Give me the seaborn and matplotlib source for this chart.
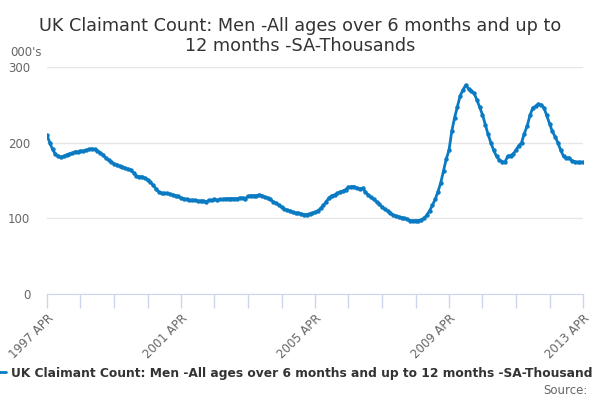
import pandas as pd
import matplotlib
matplotlib.use('Agg')
import matplotlib.pyplot as plt
import seaborn as sns

# monthly values, thousands, Apr 1997 .. Apr 2013
claimants = [
    210, 200, 191, 185, 182, 181, 182, 184, 185, 186, 188, 188,   # 1997/98
    189, 189, 190, 191, 192, 191, 189, 187, 184, 180, 177, 175,   # 1998/99
    172, 171, 169, 168, 166, 165, 164, 160, 156, 155, 155, 153,   # 1999/00
    151, 148, 144, 139, 135, 133, 133, 133, 132, 131, 130, 129,   # 2000/01
    127, 126, 125, 124, 124, 124, 123, 123, 123, 122, 124, 124,   # 2001/02
    125, 124, 125, 125, 126, 126, 126, 126, 126, 127, 127, 126,   # 2002/03
    129, 130, 130, 130, 131, 130, 128, 127, 125, 122, 120, 118,   # 2003/04
    115, 112, 111, 110, 108, 107, 107, 106, 105, 105, 106, 107,   # 2004/05
    108, 110, 113, 117, 122, 127, 130, 131, 133, 135, 136, 138,   # 2005/06
    141, 142, 142, 140, 139, 140, 135, 131, 128, 125, 122, 119,   # 2006/07
    115, 112, 110, 107, 104, 103, 102, 101, 100, 99, 97, 97,      # 2007/08
    97, 97, 98, 100, 104, 110, 117, 125, 135, 147, 163, 178,      # 2008/09
    190, 215, 233, 247, 262, 270, 276, 271, 268, 265, 256, 247,   # 2009/10
    237, 224, 211, 200, 190, 182, 177, 175, 174, 182, 183, 185,   # 2010/11
    190, 196, 200, 212, 222, 236, 246, 248, 251, 250, 246, 236,   # 2011/12
    225, 215, 208, 200, 190, 182, 180, 180, 176, 175, 174, 174,   # 2012/13
    174,                                                          # Apr 2013
]
months = pd.date_range('1997-04-01', periods=len(claimants), freq='MS')
series_name = 'UK Claimant Count: Men -All ages over 6 months and up to 12 months -SA-Thousand'
tick_years = list(range(1997, 2014))
label_years = [1997, 2001, 2005, 2009, 2013]

df = pd.DataFrame({'Month': months, 'Value': claimants})

sns.set_style('white')
plt.rcParams['font.family'] = ['DejaVu Sans']

fig = plt.figure(figsize=(6, 4), dpi=100)
ax = fig.add_axes([47 / 600, 1 - 294 / 400, 536 / 600, 227 / 400])

blue = '#0a7bc2'
sns.lineplot(x='Month', y='Value', data=df, ax=ax, color=blue, linewidth=2,
             marker='o', markersize=3.2, markeredgewidth=0, label=series_name,
             legend=False)

ax.set_xlim(months[0], months[-1])
ax.set_ylim(0, 300)
ax.set_yticks([0, 100, 200, 300])
ax.yaxis.grid(True, color='#e6e6e6', linewidth=1)
ax.tick_params(axis='y', left=False, length=0, labelsize=8.5, labelcolor='#666666', pad=12)

ticks = [pd.Timestamp(f'{y}-04-01') for y in tick_years]
ax.set_xticks(ticks)
ax.set_xticklabels([f'{y} APR' if y in label_years else '' for y in tick_years],
                   rotation=45, ha='right', rotation_mode='anchor',
                   fontsize=8.5, color='#666666')
ax.tick_params(axis='x', bottom=True, direction='out', length=10, width=1,
               color='#ccd6eb', pad=3)

for side in ['top', 'right', 'left']:
    ax.spines[side].set_visible(False)
ax.spines['bottom'].set_color('#ccd6eb')
ax.set_xlabel('')
ax.set_ylabel('')

fig.text(0.5, 0.957, 'UK Claimant Count: Men -All ages over 6 months and up to\n12 months -SA-Thousands',
         ha='center', va='top', fontsize=12.7, color='#333333', linespacing=1.15)
fig.text(10 / 600, 1 - 52 / 400, "000's", ha='left', va='center', fontsize=8.5, color='#666666')

handles, labels = ax.get_legend_handles_labels()
leg = fig.legend(handles, labels, loc='center left', bbox_to_anchor=(-0.0343, 1 - 373 / 400),
                 frameon=False, handlelength=1.25, handletextpad=0.4,
                 prop={'size': 8.85, 'weight': 'bold'})
for t in leg.get_texts():
    t.set_color('#333333')
for h in leg.legend_handles:
    h.set_marker('')
    h.set_linewidth(2)

fig.text(588 / 600, 1 - 390 / 400, 'Source:', ha='right', va='center', fontsize=8.5, color='#666666')

fig.savefig('out.png', dpi=100)
